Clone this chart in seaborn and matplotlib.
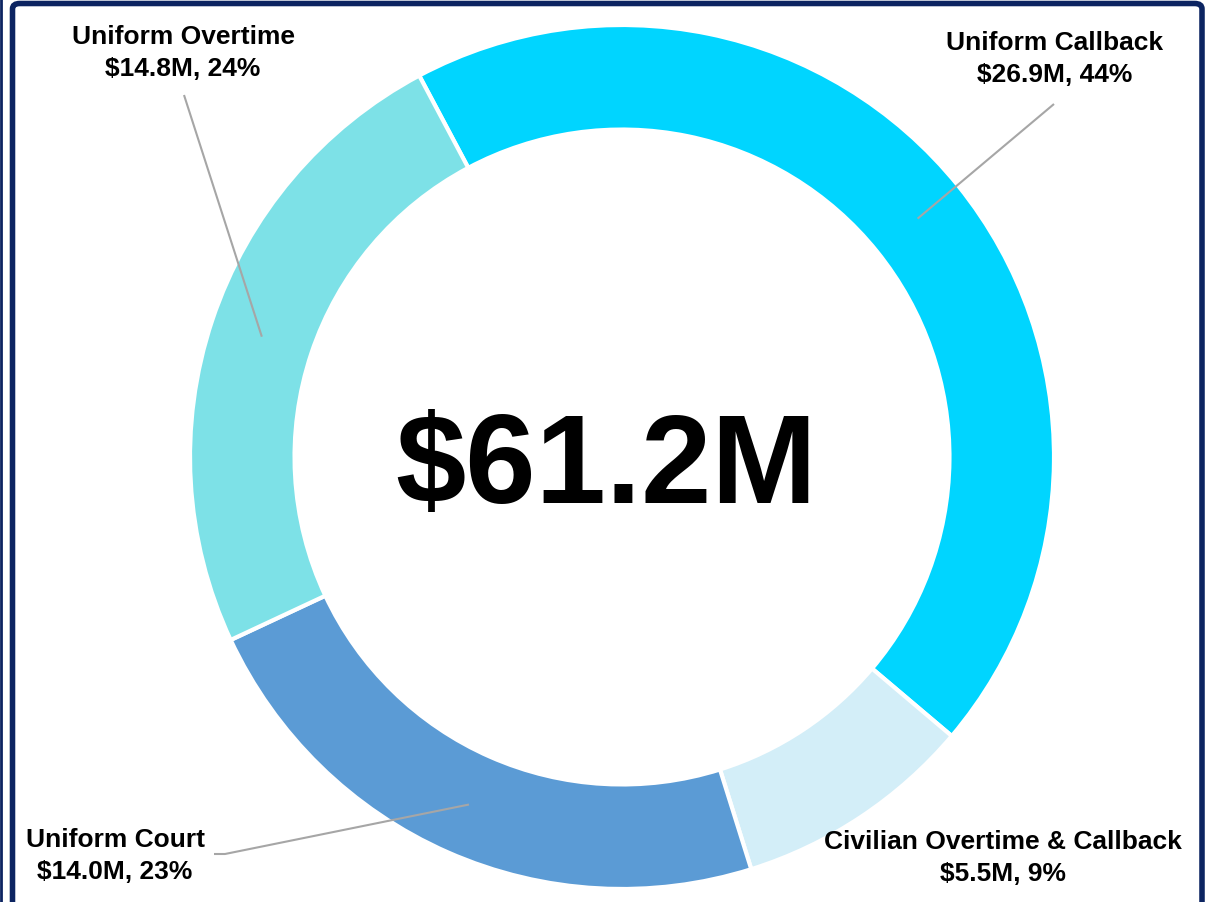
import matplotlib
matplotlib.use("Agg")
import matplotlib.pyplot as plt
from matplotlib.patches import FancyBboxPatch
import numpy as np
import seaborn as sns

# Overtime spending breakdown ($M)
categories = ["Uniform Callback", "Civilian Overtime & Callback", "Uniform Court", "Uniform Overtime"]
values = [26.9, 5.5, 14.0, 14.8]
colors = ["#00D5FF", "#D3EEF8", "#5B9BD5", "#7DE1E7"]
total_label = "$61.2M"

sns.set_theme(style="white")
plt.rcParams["font.family"] = ["Liberation Sans", "DejaVu Sans"]

W, H, DPI = 1215, 903, 100
fig = plt.figure(figsize=(W / DPI, H / DPI), dpi=DPI)
fig.patch.set_facecolor("white")

# pixel helpers: donut centre and outer radius in pixels
CX, CY, R = 622, 458, 432


def px(x, y):
    return (x - CX) / R, (CY - y) / R


ax = fig.add_axes([0, 0, 1, 1])
start = 118
ring = 0.242
wedges, _ = ax.pie(values, colors=colors, startangle=start, counterclock=False,
                   radius=1.0, wedgeprops=dict(width=ring, edgecolor="white", linewidth=3))
ax.set_xlim(-CX / R, (W - CX) / R)
ax.set_ylim(-(H - CY) / R, CY / R)
ax.set_aspect("auto")
ax.axis("off")

total = sum(values)
ax.text(*px(606, 503), total_label, ha="center", va="baseline",
        fontsize=91, fontweight="bold", color="black")

# label anchors (text block centres) and leader-line elbows
label_pos = {
    "Uniform Callback": (1055, 59),
    "Civilian Overtime & Callback": (1003, 858),
    "Uniform Court": (115, 856),
    "Uniform Overtime": (183, 53),
}
leader_end = {
    "Uniform Callback": [(1054, 105)],
    "Uniform Court": [(225, 855), (214, 855)],
    "Uniform Overtime": [(184, 96)],
}

r_mid = 1 - ring / 2
for w, name, v in zip(wedges, categories, values):
    pct = round(100 * v / total)
    lx, ly = px(*label_pos[name])
    ax.text(lx, ly, f"{name}\n${v:.1f}M, {pct}%", ha="center", va="center",
            fontsize=19, fontweight="bold", color="black", linespacing=1.42)
    if name in leader_end:
        theta = np.deg2rad((w.theta1 + w.theta2) / 2)
        pts = [(r_mid * np.cos(theta), r_mid * np.sin(theta))] + [px(*p) for p in leader_end[name]]
        xs, ys = zip(*pts)
        ax.plot(xs, ys, color="#A6A6A6", linewidth=1.5, solid_capstyle="butt")

# dark navy frame
frame = FancyBboxPatch((12.5 / W, -20 / H), (1202 - 12.5) / W, (H - 4.5 + 20) / H,
                       boxstyle="round,pad=0,rounding_size=0.006",
                       transform=fig.transFigure, fill=False,
                       edgecolor="#0C2461", linewidth=4, clip_on=False)
fig.patches.append(frame)
fig.add_artist(plt.Line2D([1 / W, 1 / W], [0, 1], transform=fig.transFigure,
                          color="#0C2461", linewidth=2))

fig.savefig("out.png", dpi=DPI, facecolor="white")
